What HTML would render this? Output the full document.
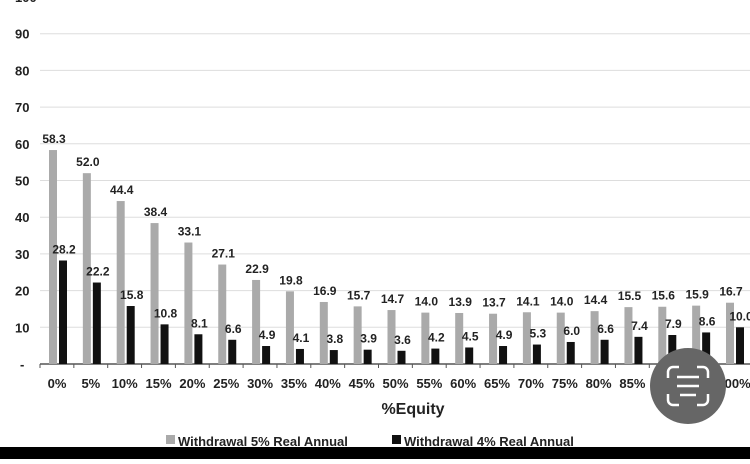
<!DOCTYPE html>
<html><head><meta charset="utf-8"><style>
body{margin:0;width:750px;height:459px;overflow:hidden;background:#fff;font-family:"Liberation Sans",sans-serif}
svg text{font-family:"Liberation Sans",sans-serif;font-weight:bold;fill:#222}
</style></head><body>
<svg width="750" height="459">
<g id="grid"></g><g id="bars"></g><g id="labels"></g>
<text x="413" y="414" font-size="16" text-anchor="middle">%Equity</text>
<rect x="166" y="435" width="9" height="9" fill="#aaa"/>
<text x="178" y="446" font-size="13">Withdrawal 5% Real Annual</text>
<rect x="392" y="435" width="9" height="9" fill="#111"/>
<text x="404" y="446" font-size="13">Withdrawal 4% Real Annual</text>
<rect x="0" y="447" width="750" height="12" fill="#000"/>
<g>
<circle cx="688" cy="386" r="38" fill="#666"/>
<path d="M668 378v-6a5 5 0 0 1 5-5h6M697 367h6a5 5 0 0 1 5 5v6M708 394v6a5 5 0 0 1-5 5h-6M679 405h-6a5 5 0 0 1-5-5v-6" stroke="#fff" stroke-width="2.5" fill="none"/>
<path d="M677 377h22M677 386h22M680 395h16" stroke="#fff" stroke-width="2.5"/>
</g>
</svg>
<script>
const categories=["0%","5%","10%","15%","20%","25%","30%","35%","40%","45%","50%","55%","60%","65%","70%","75%","80%","85%","90%","95%","100%"];
const series5=[58.3,52.0,44.4,38.4,33.1,27.1,22.9,19.8,16.9,15.7,14.7,14.0,13.9,13.7,14.1,14.0,14.4,15.5,15.6,15.9,16.7];
const series4=[28.2,22.2,15.8,10.8,8.1,6.6,4.9,4.1,3.8,3.9,3.6,4.2,4.5,4.9,5.3,6.0,6.6,7.4,7.9,8.6,10.0];
const yTicks=[0,10,20,30,40,50,60,70,80,90,100];
const NS="http://www.w3.org/2000/svg";
const y=v=>364-v*3.67;
const x0=40,step=33.85;
const cx=i=>x0+step*i;
function mk(tag,attrs,parent,text){const e=document.createElementNS(NS,tag);for(const k in attrs)e.setAttribute(k,attrs[k]);if(text!==undefined)e.textContent=text;document.getElementById(parent).appendChild(e);return e;}
yTicks.forEach(t=>{
 if(t>0){const l=mk("line",{x1:40,x2:750,y1:y(t),y2:y(t),stroke:"#ddd","stroke-width":1},"grid");
 
 }
 const tx=mk("text",{x:t===0?20:15,y:y(t)+5,"font-size":13},"labels",t===0?"-":String(t));
 
 
});
const ax=mk("line",{x1:40,x2:750,y1:364,y2:364,stroke:"#555","stroke-width":1.5},"grid");


categories.forEach((c,i)=>{
 const tk=mk("line",{x1:cx(i),x2:cx(i),y1:364,y2:368,stroke:"#555"},"grid");
 
 
 const b1=mk("rect",{x:cx(i)+9,y:y(series5[i]),width:8,height:364-y(series5[i]),fill:"#aaa"},"bars");
 
 
 const b2=mk("rect",{x:cx(i)+19,y:y(series4[i]),width:8,height:364-y(series4[i]),fill:"#111"},"bars");
 
 
 const l1=mk("text",{x:cx(i)+14,y:y(series5[i])-7,"font-size":12,"text-anchor":"middle"},"labels",series5[i].toFixed(1));
 
 
 const l2=mk("text",{x:cx(i)+24,y:y(series4[i])-7,"font-size":12,"text-anchor":"middle"},"labels",series4[i].toFixed(1));
 
 
 const xl=mk("text",{x:cx(i)+17,y:388,"font-size":13,"text-anchor":"middle"},"labels",c);
 
 
});
</script>
</body></html>
